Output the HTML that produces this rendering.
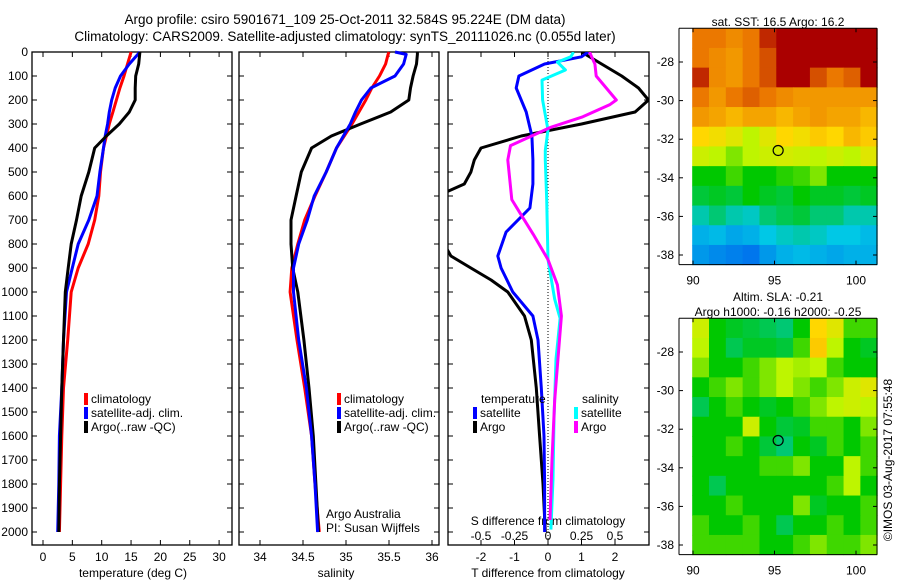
<!DOCTYPE html>
<html><head><meta charset="utf-8">
<style>
html,body{margin:0;padding:0;background:#fff;}
svg{display:block;font-family:"Liberation Sans",sans-serif;}
text{font-size:12px;fill:#000;}
</style></head>
<body>
<svg id="chart" width="900" height="580" viewBox="0 0 900 580" xmlns="http://www.w3.org/2000/svg">
<text x="345" y="24" text-anchor="middle" style="font-size:13.5px">Argo profile: csiro 5901671_109 25-Oct-2011 32.584S 95.224E (DM data)</text>
<text x="345" y="41" text-anchor="middle" style="font-size:13.5px">Climatology: CARS2009. Satellite-adjusted climatology: synTS_20111026.nc (0.055d later)</text>
<g id="g"></g>
</svg>
<script>
// ---------- data ----------
const depthTicks=[0,100,200,300,400,500,600,700,800,900,1000,1100,1200,1300,1400,1500,1600,1700,1800,1900,2000];
const tTicks=[0,5,10,15,20,25,30];
const sTicks=[34,34.5,35,35.5,36];
const tdTicks=[-2,-1,0,1,2];
const sdTicks=[-0.5,-0.25,0,0.25,0.5];
const sdTickLabels=['-0.5','-0.25','0','0.25','0.5'];

const tDepth=[0,50,100,150,200,250,300,350,400,500,600,700,800,900,1000,1200,1400,1600,1800,2000];
const tClim=[15,14.4,13.8,13.1,12.5,11.9,11.3,10.8,10.3,9.8,9.5,8.8,7.7,6,4.8,4.2,3.5,3.2,3,2.8];
const tSat=[16.5,14.7,13.2,12.3,11.7,11.3,11,10.6,10.3,9.7,9.2,7.8,6,5,4,3.5,3.2,2.8,2.7,2.5];
const tArgo=[16.5,16.3,15.8,15.7,15.7,14.7,13,10.8,8.8,7.8,6.5,5.7,4.8,4.3,3.8,3.5,3.2,3,2.8,2.7];

const sDepth=[0,10,50,100,150,200,250,300,350,400,500,600,700,800,900,1000,1200,1400,1600,1800,2000];
const sClim=[35.5,35.49,35.46,35.39,35.3,35.23,35.15,35.07,34.98,34.89,34.77,34.64,34.52,34.44,34.37,34.35,34.43,34.52,34.6,34.64,34.69];
const sSat=[35.57,35.7,35.67,35.57,35.29,35.18,35.11,35.05,34.97,34.89,34.77,34.63,34.55,34.45,34.39,34.39,34.45,34.54,34.6,34.64,34.67];
const sArgo=[35.83,35.83,35.82,35.78,35.75,35.73,35.52,35.17,34.83,34.6,34.48,34.42,34.36,34.36,34.38,34.44,34.51,34.57,34.62,34.65,34.68];

const dtSatDepth=[0,20,50,100,150,250,350,450,550,650,750,850,900,1000,1100,1200,1400,1600,1800,2000];
const dtSat=[1.2,1.0,-0.1,-0.87,-0.95,-0.65,-0.48,-0.45,-0.45,-0.54,-1.25,-1.5,-1.4,-1.05,-0.45,-0.3,-0.2,-0.12,-0.1,-0.1];
const dtArgoDepth=[0,50,100,150,200,250,300,350,400,450,500,550,600,700,800,850,900,950,1000,1100,1200,1400,1600,1800,2000];
const dtArgo=[1.0,1.6,2.2,2.7,3.0,2.6,1.0,-0.8,-2.0,-2.2,-2.3,-2.5,-3.3,-3.6,-3.1,-2.9,-2.3,-1.7,-1.2,-0.7,-0.5,-0.35,-0.25,-0.15,-0.08];
const dsSatDepth=[0,20,42,75,117,200,325,410,450,615,865,1030,1110,1280,1530,1780,1990];
const dsSat=[0.19,0.17,0.07,0.13,-0.045,-0.04,0,-0.02,-0.02,-0.01,0,0.05,0.09,0.06,0.045,0.037,0.022];
const dsArgoDepth=[0,50,100,200,220,270,315,390,450,615,670,760,865,970,1100,1240,1450,1700,1950];
const dsArgo=[0.31,0.35,0.36,0.51,0.46,0.26,0.015,-0.28,-0.3,-0.27,-0.21,-0.11,0,0.07,0.1,0.08,0.05,0.03,0.015];

const latTicks=[-28,-30,-32,-34,-36,-38];
const lonTicks=[90,95,100];
const sstGrid=[
[0.85,0.85,0.82,0.85,0.95,1,1,1,1,1,1],
[0.85,0.82,0.8,0.85,0.9,1,1,1,1,1,1],
[0.95,0.82,0.8,0.85,0.9,1,1,0.9,0.85,0.88,1],
[0.85,0.8,0.85,0.88,0.85,0.82,0.8,0.8,0.8,0.8,0.8],
[0.8,0.78,0.75,0.78,0.78,0.75,0.78,0.8,0.78,0.78,0.75],
[0.7,0.68,0.65,0.6,0.65,0.7,0.68,0.72,0.7,0.75,0.72],
[0.62,0.6,0.55,0.6,0.62,0.63,0.62,0.6,0.62,0.6,0.65],
[0.45,0.45,0.5,0.45,0.45,0.48,0.5,0.55,0.45,0.45,0.45],
[0.4,0.42,0.4,0.45,0.42,0.4,0.45,0.42,0.42,0.4,0.42],
[0.3,0.35,0.3,0.28,0.35,0.38,0.4,0.35,0.35,0.3,0.3],
[0.2,0.22,0.18,0.2,0.25,0.28,0.3,0.28,0.25,0.25,0.22],
[0.15,0.12,0.1,0.08,0.15,0.2,0.22,0.2,0.18,0.2,0.2]];
const slaGrid=[
[0.62,0.45,0.42,0.4,0.38,0.35,0.45,0.7,0.65,0.5,0.5],
[0.6,0.45,0.38,0.42,0.42,0.4,0.5,0.72,0.6,0.45,0.42],
[0.55,0.45,0.45,0.5,0.55,0.6,0.58,0.6,0.5,0.45,0.45],
[0.45,0.5,0.55,0.5,0.55,0.6,0.55,0.5,0.55,0.62,0.65],
[0.38,0.45,0.5,0.45,0.42,0.45,0.5,0.55,0.6,0.62,0.6],
[0.45,0.45,0.45,0.62,0.45,0.4,0.42,0.5,0.5,0.45,0.55],
[0.45,0.45,0.5,0.45,0.4,0.35,0.45,0.42,0.5,0.45,0.5],
[0.45,0.45,0.45,0.45,0.5,0.5,0.55,0.45,0.45,0.6,0.5],
[0.45,0.38,0.45,0.45,0.45,0.45,0.45,0.45,0.5,0.6,0.45],
[0.45,0.45,0.5,0.45,0.45,0.45,0.55,0.42,0.45,0.45,0.5],
[0.5,0.45,0.45,0.5,0.45,0.38,0.45,0.45,0.5,0.45,0.5],
[0.5,0.5,0.5,0.5,0.45,0.45,0.5,0.55,0.5,0.5,0.55]];
const argoPos=[95.224,-32.584];

// ---------- drawing ----------
const NS='http://www.w3.org/2000/svg';
const G=document.getElementById('g');
function el(tag,attrs,parent){const e=document.createElementNS(NS,tag);for(const k in attrs)e.setAttribute(k,attrs[k]);(parent||G).appendChild(e);return e;}
function txt(x,y,s,anchor,parent,size){const t=el('text',{x:x,y:y,'text-anchor':anchor||'start'},parent);if(size)t.style.fontSize=size+'px';t.textContent=s;return t;}

const TOP=52,BOT=545;
const yD=d=>TOP+d*0.24;
const xT=v=>43+v*5.87;
const xS=v=>260+(v-34)*86;
const xTD=v=>548+v*33.5;
const xSD=v=>548+v*134;
const P1=[32,232],P2=[239,439],P3=[448,649];

function frame(x0,x1,name){
  const r=el('rect',{x:x0,y:TOP,width:x1-x0,height:BOT-TOP,fill:'none',stroke:'#000','stroke-width':1.3});
  
  
  depthTicks.forEach(d=>{
    el('line',{x1:x0,x2:x0+5,y1:yD(d),y2:yD(d),stroke:'#000'});
    el('line',{x1:x1,x2:x1-5,y1:yD(d),y2:yD(d),stroke:'#000'});
  });
}
function line(xs,ds,xf,color,name,clip,w){
  const pts=xs.map((v,i)=>xf(v).toFixed(1)+','+yD(ds[i]).toFixed(1)).join(' ');
  const p=el('polyline',{points:pts,fill:'none',stroke:color,'stroke-width':w||3,'stroke-linejoin':'round'});
  if(clip)p.setAttribute('clip-path','url(#'+clip+')');
  
  
}
function legend(x,y,color,label,name){
  const g=el('g',{});
  
  
  el('rect',{x:x,y:y-10,width:4,height:12,fill:color},g);
  txt(x+7,y,label,'start',g);
}

// panel 1 temperature
frame(P1[0],P1[1],'temperature-panel');
depthTicks.forEach(d=>{const t=txt(28,yD(d)+4,String(d),'end');});
tTicks.forEach(v=>{el('line',{x1:xT(v),x2:xT(v),y1:TOP,y2:TOP+5,stroke:'#000'});el('line',{x1:xT(v),x2:xT(v),y1:BOT,y2:BOT-5,stroke:'#000'});txt(xT(v),561,String(v),'middle');});
txt(133,577,'temperature (deg C)','middle');
line(tClim,tDepth,xT,'#ff0000','temp-climatology-line');
line(tSat,tDepth,xT,'#0000ff','temp-satellite-line');
line(tArgo,tDepth,xT,'#000000','temp-argo-line');
legend(84,403,'#ff0000','climatology','legend-climatology');
legend(84,417,'#0000ff','satellite-adj. clim.','legend-satellite');
legend(84,431,'#000000','Argo(..raw -QC)','legend-argo');

// panel 2 salinity
frame(P2[0],P2[1],'salinity-panel');
sTicks.forEach(v=>{el('line',{x1:xS(v),x2:xS(v),y1:TOP,y2:TOP+5,stroke:'#000'});el('line',{x1:xS(v),x2:xS(v),y1:BOT,y2:BOT-5,stroke:'#000'});txt(xS(v),561,String(v),'middle');});
txt(336,577,'salinity','middle');
line(sClim,sDepth,xS,'#ff0000','sal-climatology-line');
line(sArgo,sDepth,xS,'#000000','sal-argo-line');
line(sSat,sDepth,xS,'#0000ff','sal-satellite-line');
legend(337,403,'#ff0000','climatology','legend-climatology-2');
legend(337,417,'#0000ff','satellite-adj. clim.','legend-satellite-2');
legend(337,431,'#000000','Argo(..raw -QC)','legend-argo-2');
txt(326,518,'Argo Australia');
txt(326,532,'PI: Susan Wijffels');

// panel 3 differences
const defs=el('defs',{});
const cp=el('clipPath',{id:'c3'},defs);
el('rect',{x:P3[0],y:TOP,width:P3[1]-P3[0],height:BOT-TOP},cp);
frame(P3[0],P3[1],'difference-panel');
el('line',{x1:xTD(0),x2:xTD(0),y1:TOP,y2:BOT,stroke:'#000','stroke-dasharray':'1,2'});
tdTicks.forEach(v=>{el('line',{x1:xTD(v),x2:xTD(v),y1:BOT,y2:BOT-5,stroke:'#000'});txt(xTD(v),561,String(v),'middle');});
sdTicks.forEach((v,i)=>{el('line',{x1:xSD(v),x2:xSD(v),y1:TOP,y2:TOP+5,stroke:'#000'});txt(xSD(v),540,sdTickLabels[i],'middle');});
txt(548,577,'T difference from climatology','middle');
txt(548,525,'S difference from climatology','middle');
line(dtArgo,dtArgoDepth,xTD,'#000000','tdiff-argo-line','c3');
line(dtSat,dtSatDepth,xTD,'#0000ff','tdiff-satellite-line','c3');
line(dsSat,dsSatDepth,xSD,'#00ffff','sdiff-satellite-line','c3');
line(dsArgo,dsArgoDepth,xSD,'#ff00ff','sdiff-argo-line','c3');
txt(481,403,'temperature');
legend(473,417,'#0000ff','satellite','legend-t-satellite');
legend(473,431,'#000000','Argo','legend-t-argo');
txt(582,403,'salinity');
legend(574,417,'#00ffff','satellite','legend-s-satellite');
legend(574,431,'#ff00ff','Argo','legend-s-argo');

// maps
const cstops=[[0,[0,80,240]],[0.25,[0,200,230]],[0.45,[0,200,0]],[0.6,[190,245,0]],[0.7,[255,215,0]],[0.85,[235,120,0]],[1,[170,0,0]]];
function cmap(v){for(let i=1;i<cstops.length;i++){if(v<=cstops[i][0]){const a=cstops[i-1],b=cstops[i];const f=(v-a[0])/(b[0]-a[0]);return 'rgb('+a[1].map((c,j)=>Math.round(c+(b[1][j]-c)*f)).join(',')+')';}}return 'rgb(170,0,0)';}
function drawMap(grid,top,name){
  const lonX=v=>693+(v-90)*16.3;
  const latY=v=>top+28+(-28-v)*19.3;
  const lon0=89.95,lon1=101.3,lat0=-26.25,lat1=-38.5;
  const nr=grid.length,nc=grid[0].length;
  const g=el('g',{});
  
  
  grid.forEach((row,r)=>row.forEach((v,c)=>{
    const xa=lonX(lon0+(lon1-lon0)*c/nc),xb=lonX(lon0+(lon1-lon0)*(c+1)/nc);
    const ya=latY(lat0+(lat1-lat0)*r/nr),yb=latY(lat0+(lat1-lat0)*(r+1)/nr);
    const cell=el('rect',{x:xa,y:ya,width:xb-xa+0.5,height:yb-ya+0.5,fill:cmap(v)},g);
    
    
  }));
  const fy0=latY(lat0),fy1=latY(lat1);
  el('line',{x1:679,x2:679,y1:fy0,y2:fy1,stroke:'#000'});
  el('line',{x1:679,x2:877,y1:fy1,y2:fy1,stroke:'#000'});
  el('line',{x1:679,x2:877,y1:fy0,y2:fy0,stroke:'#000'});
  el('line',{x1:877,x2:877,y1:fy0,y2:fy1,stroke:'#000'});
  latTicks.forEach(v=>{el('line',{x1:679,x2:683,y1:latY(v),y2:latY(v),stroke:'#000'});el('line',{x1:877,x2:873,y1:latY(v),y2:latY(v),stroke:'#000'});txt(674,latY(v)+4,String(v),'end');});
  lonTicks.forEach(v=>{el('line',{x1:lonX(v),x2:lonX(v),y1:fy1,y2:fy1-4,stroke:'#000'});el('line',{x1:lonX(v),x2:lonX(v),y1:fy0,y2:fy0+4,stroke:'#000'});txt(lonX(v),fy1+20,String(v),'middle');});
  const m=el('circle',{cx:lonX(argoPos[0]),cy:latY(argoPos[1]),r:5,fill:'none',stroke:'#000','stroke-width':1.2});
  
  
}
drawMap(sstGrid,34,'sst-map');
drawMap(slaGrid,324,'sla-map');
txt(778,26,'sat. SST: 16.5 Argo: 16.2','middle');
txt(778,301,'Altim. SLA: -0.21','middle');
txt(778,316,'Argo h1000: -0.16 h2000: -0.25','middle');
const cr=txt(0,0,'©IMOS 03-Aug-2017 07:55:48','middle');
cr.setAttribute('transform','translate(892,460) rotate(-90)');


</script>
</body></html>
